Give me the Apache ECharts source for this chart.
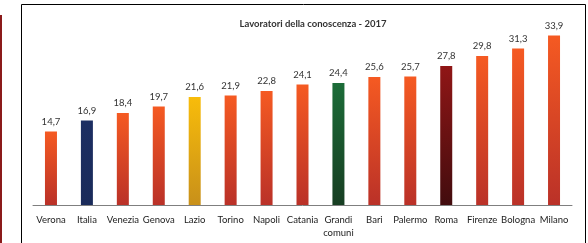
<!DOCTYPE html>
<html><head><meta charset="utf-8">
<script src="https://cdn.jsdelivr.net/npm/echarts@6/dist/echarts.min.js"></script>
<style>html,body{margin:0;padding:0;background:#fff}#c{width:588px;height:243px}</style>
</head><body><div id="c"></div>
<script>
const categories = ["Verona","Italia","Venezia","Genova","Lazio","Torino","Napoli","Catania","Grandi\ncomuni","Bari","Palermo","Roma","Firenze","Bologna","Milano"];
const values = [14.7,16.9,18.4,19.7,21.6,21.9,22.8,24.1,24.4,25.6,25.7,27.8,29.8,31.3,33.9];
const title = "Lavoratori della conoscenza - 2017";

function grad(top, bottom){
  return new echarts.graphic.LinearGradient(0,0,0,1,[{offset:0,color:top},{offset:1,color:bottom}]);
}
const special = {
  "Italia": grad("#1C2E62","#1A2B5A"),
  "Lazio": grad("#F8BC0A","#C8901A"),
  "Grandi\ncomuni": grad("#1C6C38","#173E22"),
  "Roma": grad("#901616","#420C0E")
};
const defaultColor = grad("#F55A22","#BA3128");

const chart = echarts.init(document.getElementById('c'), null, {renderer:'canvas'});
chart.setOption({
  animation:false,
  title:{text:title,left:308,top:14,textAlign:'center',
    textStyle:{fontFamily:'Lato',fontSize:9.5,fontWeight:'bold',color:'#333'}},
  grid:{left:33,right:16,top:5,bottom:38,containLabel:false},
  xAxis:{type:'category',data:categories,
    axisLine:{lineStyle:{color:'#7f7f7f',width:1}},
    axisTick:{show:false},
    axisLabel:{interval:0,margin:8,fontFamily:'Lato',fontSize:9.5,color:'#222',lineHeight:13}},
  yAxis:{type:'value',min:0,max:40,show:false,splitLine:{show:false}},
  series:[{type:'bar',barWidth:12,
    data:values.map((v,i)=>({value:v,itemStyle:{color:special[categories[i]]||defaultColor}})),
    label:{show:true,position:'top',distance:5,fontFamily:'Lato',fontSize:9.5,color:'#333',
      formatter:p=>String(p.value.toFixed(1)).replace('.',',')}
  }],
  graphic:[
    {type:'rect',shape:{x:21.5,y:4.5,width:564,height:250},style:{fill:'none',stroke:'#000',lineWidth:1},silent:true,z:-1},
    {type:'rect',shape:{x:0,y:15,width:2,height:230},style:{fill:'#8B1A1A'},silent:true}
  ]
});
</script></body></html>
